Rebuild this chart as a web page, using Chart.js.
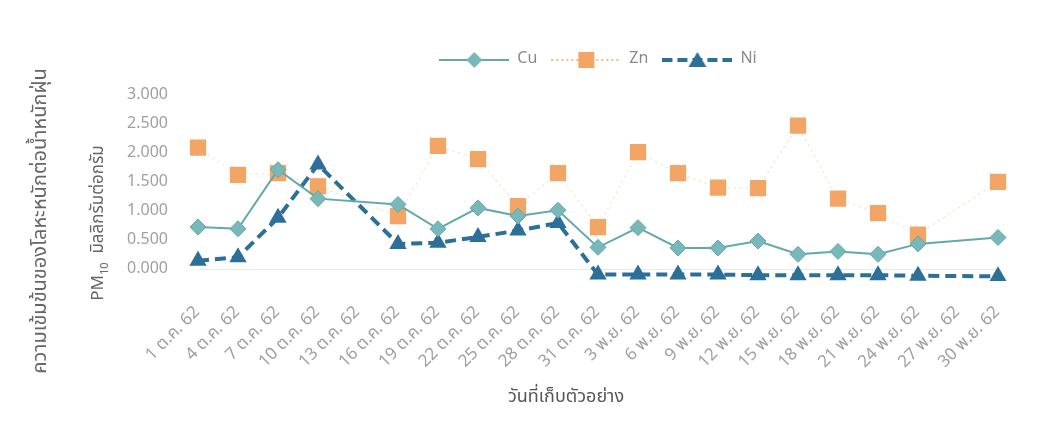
<!DOCTYPE html>
<html>
<head>
<meta charset="utf-8">
<script src="https://cdn.jsdelivr.net/npm/chart.js@4.4.0/dist/chart.umd.min.js"></script>
<style>
  html, body { margin: 0; padding: 0; background: #fff; }
  #wrap { width: 1051px; height: 428px; }
</style>
</head>
<body>
<div id="wrap"><canvas id="chart"></canvas></div>
<script>
const FONT = '"Noto Sans Thai", "Noto Sans", "DejaVu Sans", sans-serif';

const labels = ['1 ต.ค. 62', '4 ต.ค. 62', '7 ต.ค. 62', '10 ต.ค. 62', '13 ต.ค. 62', '16 ต.ค. 62',
    '19 ต.ค. 62', '22 ต.ค. 62', '25 ต.ค. 62', '28 ต.ค. 62', '31 ต.ค. 62', '3 พ.ย. 62',
    '6 พ.ย. 62', '9 พ.ย. 62', '12 พ.ย. 62', '15 พ.ย. 62', '18 พ.ย. 62', '21 พ.ย. 62',
    '24 พ.ย. 62', '27 พ.ย. 62', '30 พ.ย. 62'];
const cu = [0.73, 0.70, 1.72, 1.22, null, 1.12, 0.70, 1.06, 0.92, 1.02, 0.38,
    0.72, 0.37, 0.37, 0.49, 0.26, 0.31, 0.26, 0.44, null, 0.55];
const zn = [2.10, 1.63, 1.66, 1.43, null, 0.92, 2.13, 1.90, 1.09, 1.66, 0.73,
    2.02, 1.66, 1.41, 1.40, 2.48, 1.22, 0.97, 0.60, null, 1.51];
const ni = [0.15, 0.21, 0.89, 1.81, null, 0.44, 0.46, 0.56, 0.67, 0.80, -0.09,
    -0.09, -0.09, -0.09, -0.10, -0.10, -0.10, -0.10, -0.11, null, -0.12];
const yTicks = [0, 0.5, 1, 1.5, 2, 2.5, 3];
const seriesNames = ['Cu', 'Zn', 'Ni'];
const yTitle = ['ความเข้มข้นของโลหะหนักต่อน้ำหนักฝุ่น', 'มิลลิกรัมต่อกรัม'];
const xTitle = 'วันที่เก็บตัวอย่าง';

const CU = '#62a9aa', CU_FILL = '#78b8b9';
const ZN = '#f2a564';
const NI = '#2c6f98';

// legend sample: line + marker drawn into a small canvas
function legendSample(kind) {
    const cv = document.createElement('canvas');
    cv.width = 70; cv.height = 20;
    const g = cv.getContext('2d');
    g.beginPath();
    if (kind === 'cu') { g.strokeStyle = CU; g.lineWidth = 2; }
    if (kind === 'zn') { g.strokeStyle = ZN; g.lineWidth = 1.5; g.setLineDash([2, 3]); }
    if (kind === 'ni') { g.strokeStyle = NI; g.lineWidth = 4; g.setLineDash([10, 5]); }
    g.moveTo(0, 10); g.lineTo(70, 10); g.stroke();
    g.setLineDash([]);
    g.beginPath();
    if (kind === 'cu') {
        g.fillStyle = CU_FILL;
        g.moveTo(35, 2); g.lineTo(43, 10); g.lineTo(35, 18); g.lineTo(27, 10);
    } else if (kind === 'zn') {
        g.fillStyle = ZN;
        g.rect(27, 2, 16, 16);
    } else {
        g.fillStyle = NI;
        g.moveTo(35, 2); g.lineTo(44, 17); g.lineTo(26, 17);
    }
    g.closePath(); g.fill();
    return cv;
}
const samples = [legendSample('cu'), legendSample('zn'), legendSample('ni')];

const axisTitles = {
    id: 'axisTitles',
    afterDraw(chart) {
        const {ctx, chartArea} = chart;
        ctx.save();
        ctx.textBaseline = 'middle';
        ctx.fillStyle = '#555';
        ctx.textAlign = 'center';
        ctx.font = '18px ' + FONT;
        ctx.fillText(xTitle, (chartArea.left + chartArea.right) / 2 - 32, chartArea.bottom + 117);

        const cy = chartArea.top + 143;
        ctx.fillStyle = '#666';
        ctx.save();
        ctx.translate(42, cy);
        ctx.rotate(-Math.PI / 2);
        ctx.font = '20px ' + FONT;
        ctx.fillText(yTitle[0], 0, 0);
        ctx.restore();

        ctx.save();
        ctx.translate(100, cy + 2);
        ctx.rotate(-Math.PI / 2);
        ctx.textAlign = 'left';
        ctx.font = '17px ' + FONT;
        const wPM = ctx.measureText('PM').width;
        const rest = '  ' + yTitle[1];
        const wRest = ctx.measureText(rest).width;
        ctx.font = '11px ' + FONT;
        const wSub = ctx.measureText('10').width;
        let x = -(wPM + wSub + wRest) / 2;
        ctx.font = '17px ' + FONT;
        ctx.fillText('PM', x, 0);
        ctx.font = '11px ' + FONT;
        ctx.fillText('10', x + wPM, 6);
        ctx.font = '17px ' + FONT;
        ctx.fillText(rest, x + wPM + wSub, 0);
        ctx.restore();
        ctx.restore();
    }
};

new Chart(document.getElementById('chart'), {
    type: 'line',
    data: {
        labels: labels,
        datasets: [
            {
                label: seriesNames[0], data: cu, borderColor: CU, borderWidth: 2,
                pointStyle: 'rectRot', pointRadius: 8, pointBackgroundColor: CU_FILL,
                pointBorderColor: CU, pointBorderWidth: 1, spanGaps: true, tension: 0
            },
            {
                label: seriesNames[1], data: zn, borderColor: 'rgba(242,165,100,0.3)', borderWidth: 1.5,
                borderDash: [2, 4], pointStyle: 'rect', pointRadius: 11.5, pointBackgroundColor: ZN,
                pointBorderColor: ZN, pointBorderWidth: 0, spanGaps: true, tension: 0
            },
            {
                label: seriesNames[2], data: ni, borderColor: NI, borderWidth: 4,
                borderDash: [11, 6], pointStyle: 'triangle', pointRadius: 10, pointBackgroundColor: NI,
                pointBorderColor: NI, pointBorderWidth: 0, spanGaps: true, tension: 0
            }
        ]
    },
    options: {
        responsive: true,
        maintainAspectRatio: false,
        animation: false,
        layout: { padding: { top: 38, right: 53, bottom: 0, left: 0 } },
        plugins: {
            tooltip: { enabled: false },
            legend: {
                position: 'top',
                fullSize: false,
                labels: {
                    usePointStyle: true,
                    pointStyleWidth: 70,
                    boxHeight: 16,
                    padding: 14,
                    color: '#8a8a8a',
                    font: { size: 16, family: FONT },
                    generateLabels(chart) {
                        return chart.data.datasets.map((ds, i) => ({
                            text: ds.label, pointStyle: samples[i], fontColor: '#8a8a8a',
                            datasetIndex: i, hidden: false, lineWidth: 0
                        }));
                    }
                }
            }
        },
        scales: {
            x: {
                grid: { display: false },
                border: { display: false },
                ticks: {
                    autoSkip: false, minRotation: 45, maxRotation: 45, padding: 14,
                    color: '#a0a0a0', font: { size: 17, family: FONT }
                },
                afterFit(scale) { scale.height = 147; }
            },
            y: {
                min: -0.2, max: 3.3,
                border: { display: false },
                grid: {
                    drawTicks: false,
                    color: ctx => (ctx.tick && ctx.tick.value === 0) ? '#e8e8e8' : 'rgba(0,0,0,0)'
                },
                afterBuildTicks(scale) { scale.ticks = yTicks.map(v => ({ value: v })); },
                ticks: {
                    padding: 30, color: '#a0a0a0', font: { size: 16, family: FONT },
                    callback: v => Number(v).toFixed(3)
                },
                afterFit(scale) { scale.width = 198; }
            }
        }
    },
    plugins: [axisTitles]
});
</script>
</body>
</html>
